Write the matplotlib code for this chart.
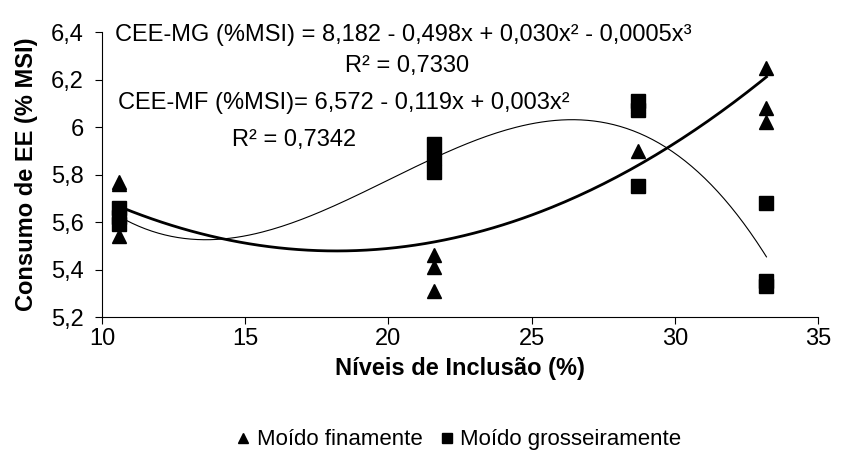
import numpy as np
from matplotlib import pyplot as plt

plt.rcParams['font.family'] = ['Liberation Sans', 'DejaVu Sans']

# inclusion levels (%)
niveis = [10.6, 21.6, 28.7, 33.2]

# Moído finamente (MF), three replicates per level
mf_x = [10.6, 10.6, 10.6, 21.6, 21.6, 21.6, 28.7, 28.7, 28.7, 33.2, 33.2, 33.2]
mf_y = [5.77, 5.76, 5.54, 5.46, 5.41, 5.31, 5.90, 6.09, 6.10, 6.25, 6.08, 6.02]

# Moído grosseiramente (MG)
mg_x = [10.6, 10.6, 10.6, 21.6, 21.6, 21.6, 28.7, 28.7, 28.7, 33.2, 33.2, 33.2]
mg_y = [5.66, 5.62, 5.59, 5.93, 5.87, 5.81, 6.11, 6.07, 5.75, 5.68, 5.35, 5.33]

x_ticks = [10, 15, 20, 25, 30, 35]
y_ticks = [5.2, 5.4, 5.6, 5.8, 6.0, 6.2, 6.4]
y_labels = ['5,2', '5,4', '5,6', '5,8', '6', '6,2', '6,4']

fs = 17

fig = plt.figure(figsize=(8.44, 4.68), dpi=100)
ax = fig.add_axes([0.1209, 0.3226, 0.8483, 0.609])

# polynomial trend lines
xx = np.linspace(min(niveis), max(niveis), 200)
p_mf = np.polyfit(mf_x, mf_y, 2)
p_mg = np.polyfit(mg_x, mg_y, 3)
ax.plot(xx, np.polyval(p_mf, xx), color='black', lw=2.0)
ax.plot(xx, np.polyval(p_mg, xx), color='black', lw=0.8)

ax.plot(mf_x, mf_y, linestyle='none', marker='^', ms=10, color='black',
        label='Moído finamente')
ax.plot(mg_x, mg_y, linestyle='none', marker='s', ms=9.5, color='black',
        label='Moído grosseiramente')

ax.set_xlim(10, 35)
ax.set_ylim(5.2, 6.4)
ax.set_xticks(x_ticks)
ax.set_yticks(y_ticks)
ax.set_yticklabels(y_labels)
ax.tick_params(labelsize=fs, length=5, width=0.8, direction='out')
ax.tick_params(axis='y', pad=8)
ax.tick_params(axis='x', pad=3)
for s in ['top', 'right']:
    ax.spines[s].set_visible(False)

ax.set_xlabel('Níveis de Inclusão (%)', fontsize=fs, fontweight='bold')
ax.set_ylabel('Consumo de EE (% MSI)', fontsize=fs, fontweight='bold')
ax.xaxis.set_label_coords(0.5, -0.14)
ax.yaxis.set_label_coords(-0.09, 0.5)

# regression equations
ax.text(10.45, 6.387, 'CEE-MG (%MSI) = 8,182 - 0,498x + 0,030x² - 0,0005x³',
        fontsize=fs, va='center')
ax.text(18.5, 6.255, 'R² = 0,7330', fontsize=fs, va='center')
ax.text(10.56, 6.10, 'CEE-MF (%MSI)= 6,572 - 0,119x + 0,003x²',
        fontsize=fs, va='center')
ax.text(14.55, 5.945, 'R² = 0,7342', fontsize=fs, va='center')

fig.legend(loc='center', bbox_to_anchor=(0.544, 0.06), ncol=2, frameon=False,
           fontsize=16, handlelength=0.6, handletextpad=0.3, columnspacing=0.8,
           markerscale=0.75)

fig.savefig('out.png', dpi=100)
